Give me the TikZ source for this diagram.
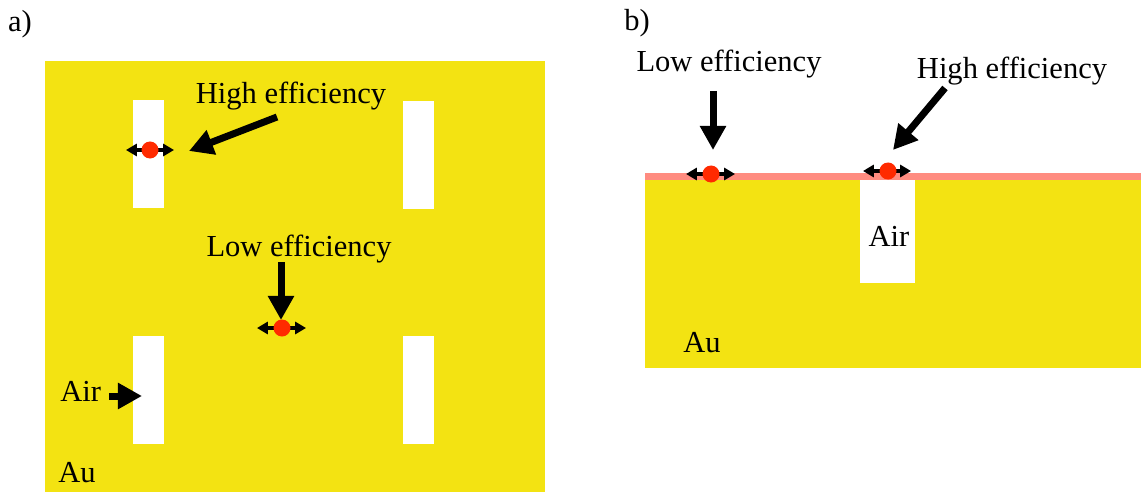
\documentclass[tikz,border=0pt]{standalone}
\usepackage{fontspec}
\setmainfont{Liberation Serif}
\usepackage{xcolor}
\usetikzlibrary{arrows.meta}
\definecolor{auGold}{HTML}{F3E312}
\definecolor{dipRed}{HTML}{FF2A00}
\definecolor{layerPink}{HTML}{FF8C80}

\begin{document}
\begin{tikzpicture}[x=0.025cm,y=-0.025cm,font=\fontsize{21.7}{26}\selectfont,
  gold/.style={fill=auGold,inner sep=0pt},
  slit/.style={fill=white,inner sep=0pt,minimum width=0.775cm,minimum height=2.7cm},
  dot/.style={circle,fill=dipRed,inner sep=0pt,minimum size=0.425cm},
  lead/.style={draw=black,line width=0.175cm,-{Triangle[length=0.6cm,width=0.62cm]}},
  pol/.style={draw=black,line width=0.08cm,{Triangle[length=0.27cm,width=0.3cm]}-{Triangle[length=0.27cm,width=0.3cm]}}]
\useasboundingbox (0,0) rectangle (1141,492);
% panel a : surface with four slits
\node[gold,minimum width=12.5cm,minimum height=10.775cm] (sheetA) at (295,276.5) {};
\node[slit] (slitTL) at (148.5,154) {};
\node[slit] (slitTR) at (418.5,155) {};
\node[slit] (slitBL) at (148.5,390) {};
\node[slit] (slitBR) at (418.5,390) {};
% panel b : cross section with one slot
\node[gold,minimum width=12.4cm,minimum height=4.7cm] (sheetB) at (893,274) {};
\node[fill=layerPink,inner sep=0pt,minimum width=12.4cm,minimum height=0.175cm] (layerB) at (893,176.5) {};
\node[fill=white,inner sep=0pt,minimum width=1.375cm,minimum height=2.575cm] (slotB) at (887.5,231.5) {};
% labels
\node (tagA) at (20,24) {a)};
\node (tagB) at (637,23) {b)};
\node (highA) at (291,96) {High efficiency};
\node (lowA) at (299,249) {Low efficiency};
\node (lowB) at (729,64) {Low efficiency};
\node (highB) at (1012,71) {High efficiency};
\node[anchor=west,inner sep=0pt] (airA) at (60,391) {Air};
\node[anchor=west,inner sep=0pt] (auA) at (58,473) {Au};
\node (airB) at (889,236) {Air};
\node (auB) at (702,343) {Au};
% big arrows
\coordinate (highAs) at (277,117);
\coordinate (highAe) at (189,151);
\coordinate (lowAs) at (281,262);
\coordinate (lowAe) at (281,320);
\coordinate (airAs) at (109,396);
\coordinate (airAe) at (142,396);
\coordinate (lowBs) at (713,91);
\coordinate (lowBe) at (713,150);
\coordinate (highBs) at (945,88);
\coordinate (highBe) at (893,150);
\draw[lead] (highAs) -- (highAe);
\draw[lead] (lowAs) -- (lowAe);
\draw[lead] (airAs) -- (airAe);
\draw[lead] (lowBs) -- (lowBe);
\draw[lead] (highBs) -- (highBe);
% dipoles : arrows first so the dots sit on top
\coordinate (d1l) at (126,150);
\coordinate (d1r) at (174,150);
\coordinate (d2l) at (257,328);
\coordinate (d2r) at (306,328);
\coordinate (d3l) at (686,174);
\coordinate (d3r) at (735,174);
\coordinate (d4l) at (863,171);
\coordinate (d4r) at (911,171);
\draw[pol] (d1l) -- (d1r);
\draw[pol] (d2l) -- (d2r);
\draw[pol] (d3l) -- (d3r);
\draw[pol] (d4l) -- (d4r);
\node[dot] (dip1) at (150,150) {};
\node[dot] (dip2) at (282,328) {};
\node[dot] (dip3) at (711,174) {};
\node[dot] (dip4) at (888,171) {};
\end{tikzpicture}
\end{document}
